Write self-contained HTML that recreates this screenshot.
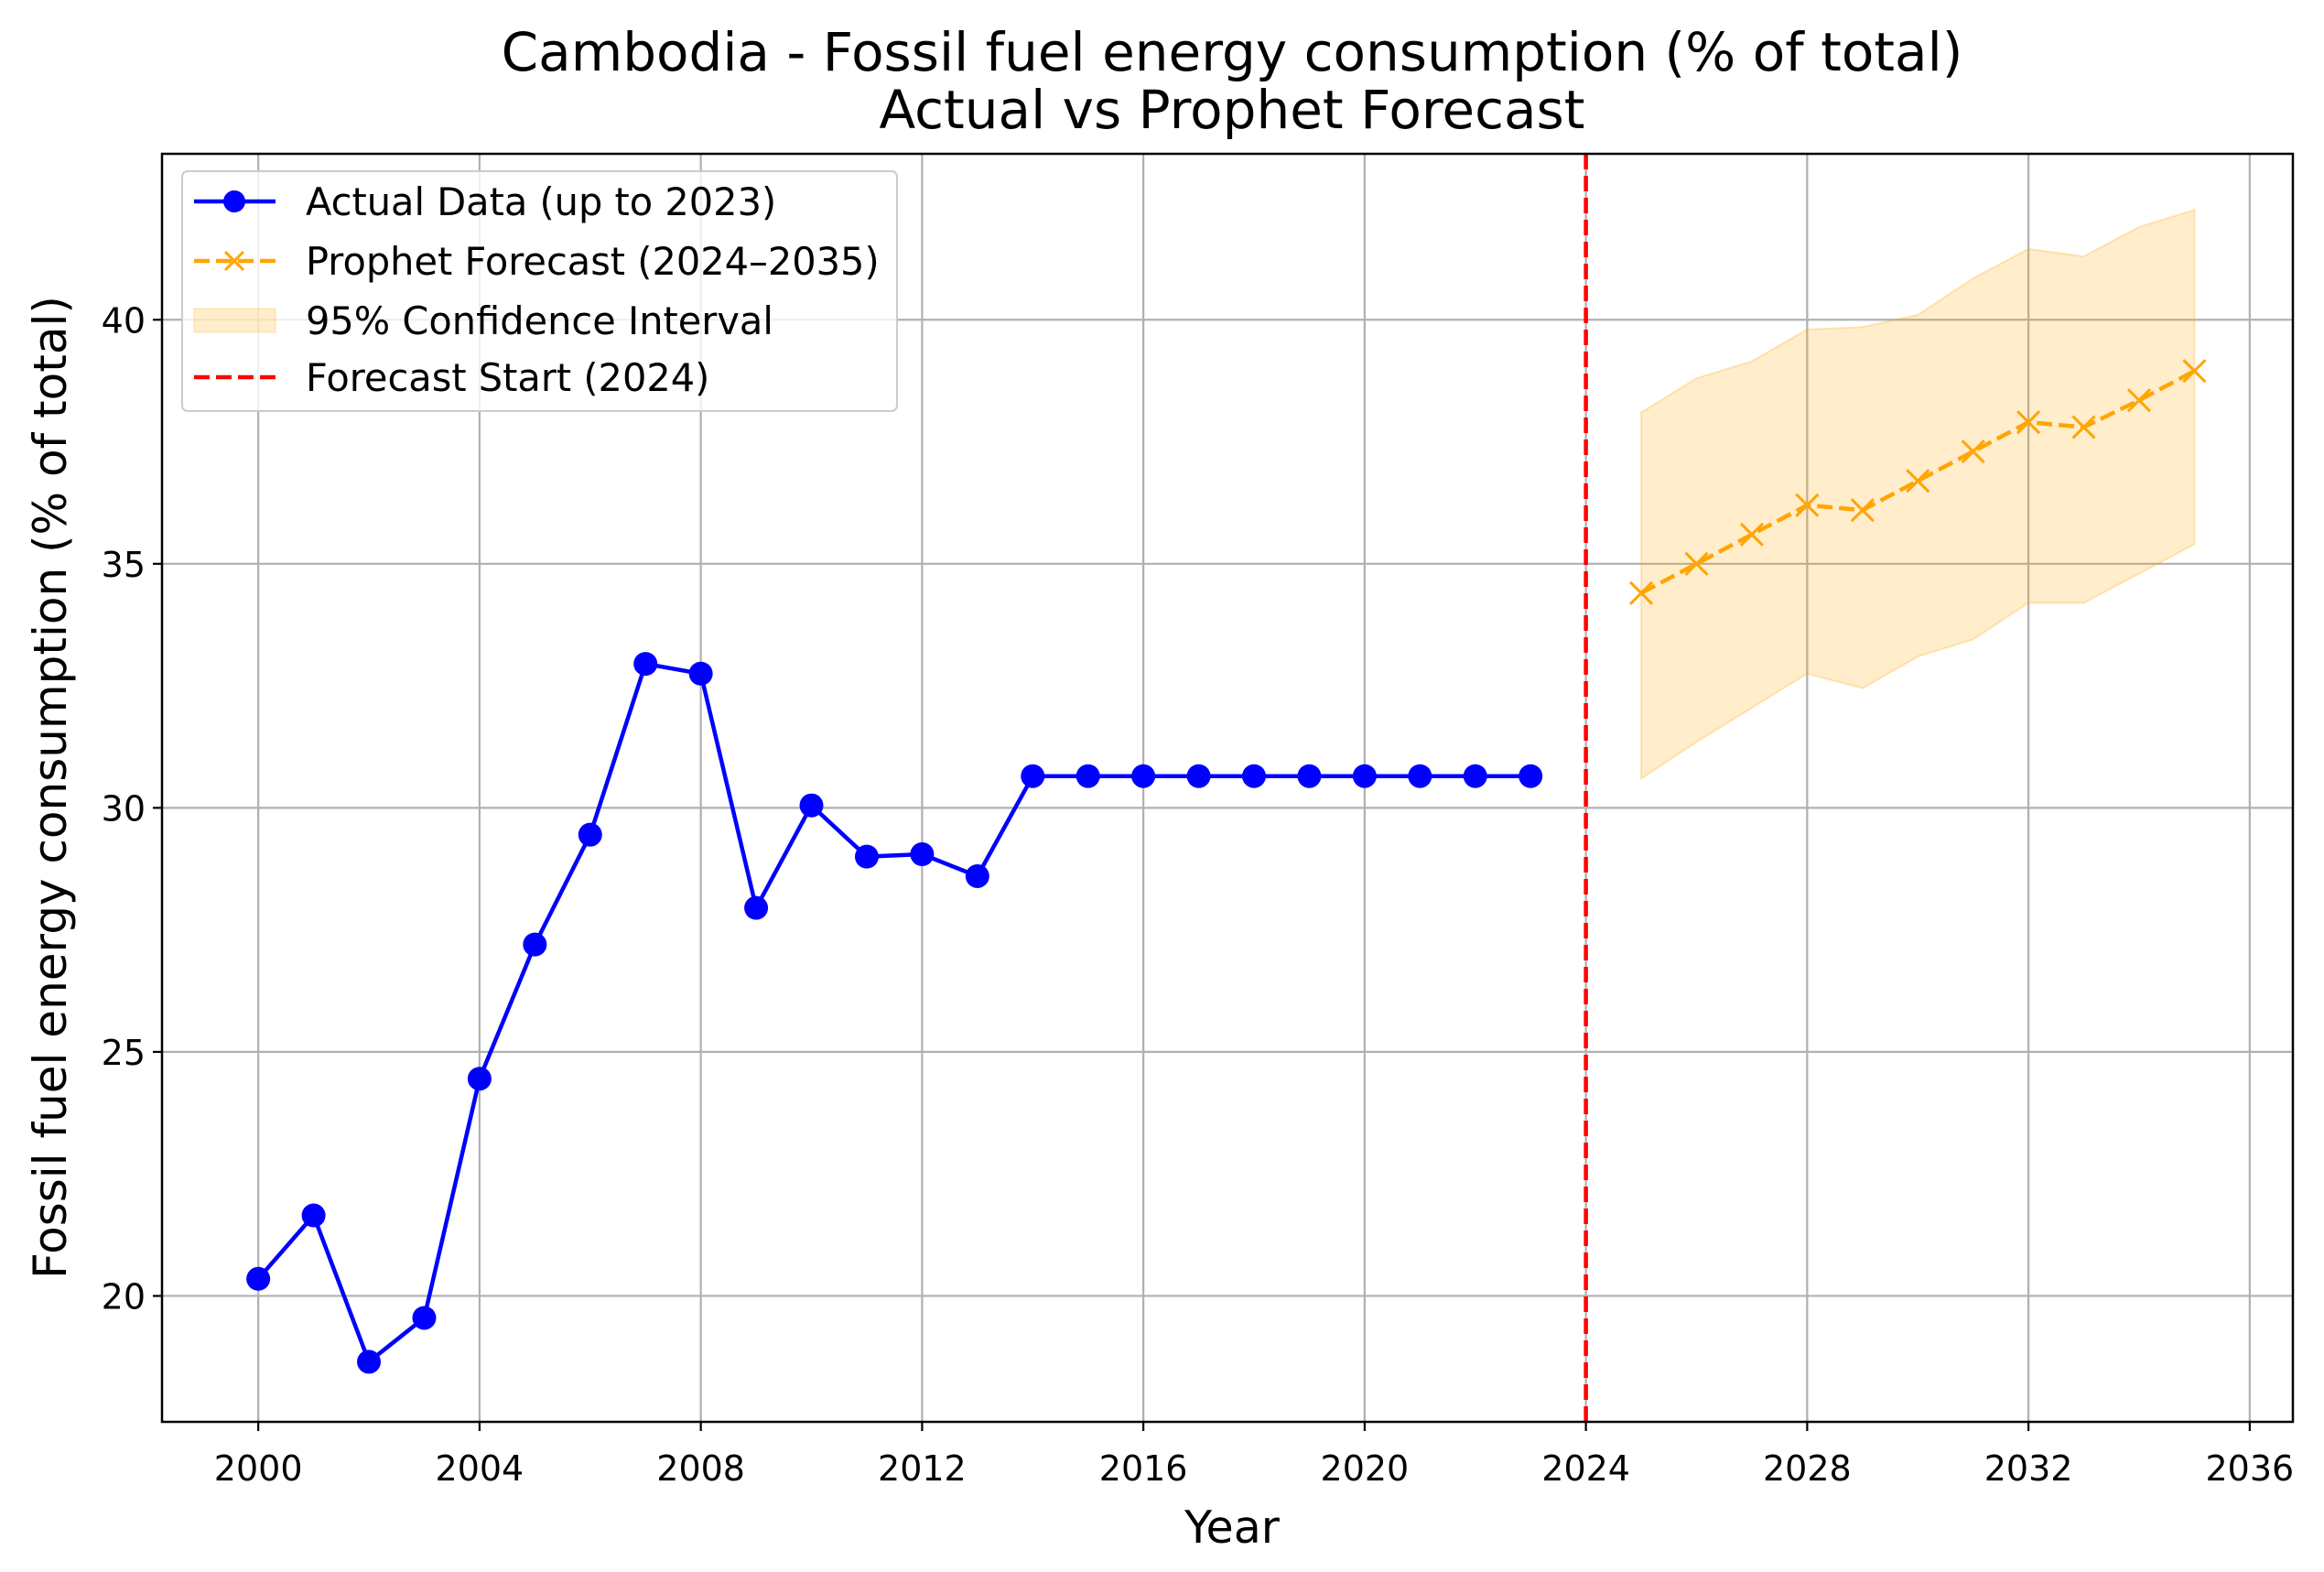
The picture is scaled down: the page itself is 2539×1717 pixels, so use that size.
<!DOCTYPE html>
<html><head><meta charset="utf-8"><style>
body{margin:0;background:#fff;}
svg{display:block;font-family:"DejaVu Sans","Liberation Sans",sans-serif;}
</style></head><body>
<svg id="chart" width="2539" height="1717" viewBox="0 0 2539 1717">
<rect x="0" y="0" width="2539" height="1717" fill="#fff"/>
<text x="1346" y="77" font-size="58" text-anchor="middle">Cambodia - Fossil fuel energy consumption (% of total)</text>
<text x="1346" y="140" font-size="58" text-anchor="middle">Actual vs Prophet Forecast</text>
<g id="grid"></g>
<g id="plot"></g>
<g id="axes"></g>
<text x="1346" y="1685" font-size="49" text-anchor="middle">Year</text>
<text transform="translate(72,860) rotate(-90)" font-size="50" text-anchor="middle">Fossil fuel energy consumption (% of total)</text>
<g>
<rect x="199" y="187" width="781" height="262" rx="6" fill="#fff" fill-opacity="0.8" stroke="#ccc" stroke-width="2"/>
<g>
<line x1="212" y1="220" x2="301" y2="220" stroke="#0000ff" stroke-width="4.5"/><circle cx="256" cy="220" r="12" fill="#0000ff"/>
<text x="334" y="235" font-size="41.5">Actual Data (up to 2023)</text></g>
<g>
<line x1="212" y1="285" x2="301" y2="285" stroke="#ffa500" stroke-width="4.5" stroke-dasharray="17,7"/>
<path d="M246 275 l20 20 M246 295 l20 -20" stroke="#ffa500" stroke-width="3"/>
<text x="334" y="300" font-size="41.5">Prophet Forecast (2024–2035)</text></g>
<g>
<rect x="212" y="337" width="89" height="26" fill="#ffa500" fill-opacity="0.2" stroke="#ffa500" stroke-opacity="0.3"/>
<text x="334" y="365" font-size="41.5">95% Confidence Interval</text></g>
<g>
<line x1="212" y1="412" x2="301" y2="412" stroke="#ff0000" stroke-width="4.5" stroke-dasharray="17,7"/>
<text x="334" y="427" font-size="41.5">Forecast Start (2024)</text></g>
</g>
</svg>
<script>
const actualYears=[2000,2001,2002,2003,2004,2005,2006,2007,2008,2009,2010,2011,2012,2013,2014,2015,2016,2017,2018,2019,2020,2021,2022,2023];
const actualValues=[20.35,21.65,18.65,19.55,24.45,27.2,29.45,32.95,32.75,27.95,30.05,29.0,29.05,28.6,30.65,30.65,30.65,30.65,30.65,30.65,30.65,30.65,30.65,30.65];
const forecastYears=[2025,2026,2027,2028,2029,2030,2031,2032,2033,2034,2035];
const forecastValues=[34.4,35.0,35.6,36.2,36.1,36.7,37.3,37.9,37.8,38.35,38.95];
const upperValues=[38.1,38.8,39.15,39.8,39.85,40.1,40.85,41.45,41.3,41.9,42.25];
const lowerValues=[30.6,31.35,32.05,32.75,32.45,33.1,33.45,34.2,34.2,34.8,35.4];
const xTicks=[2000,2004,2008,2012,2016,2020,2024,2028,2032,2036];
const yTicks=[20,25,30,35,40];
const forecastStart=2024;

const L=177,R=2505,T=168,B=1553;
const xMin=1998.26,xMax=2036.78,yMin=17.42,yMax=43.4;
const sx=v=>L+(v-xMin)/(xMax-xMin)*(R-L);
const sy=v=>B-(v-yMin)/(yMax-yMin)*(B-T);
const NS='http://www.w3.org/2000/svg';
function mk(tag,attrs,parent){const e=document.createElementNS(NS,tag);for(const k in attrs)e.setAttribute(k,attrs[k]);parent.appendChild(e);return e;}
const grid=document.getElementById('grid'),plot=document.getElementById('plot'),axes=document.getElementById('axes');

xTicks.forEach(t=>{
  const g=mk('line',{x1:sx(t),x2:sx(t),y1:T,y2:B,stroke:'#b0b0b0','stroke-width':2.2},grid);
  
  
  mk('line',{x1:sx(t),x2:sx(t),y1:B,y2:B+10,stroke:'#000','stroke-width':2.2},axes);
  const tx=mk('text',{x:sx(t),y:B+64,'font-size':38,'text-anchor':'middle'},axes);
  tx.textContent=t;
  
  
});
yTicks.forEach(t=>{
  const g=mk('line',{x1:L,x2:R,y1:sy(t),y2:sy(t),stroke:'#b0b0b0','stroke-width':2.2},grid);
  
  
  mk('line',{x1:L-10,x2:L,y1:sy(t),y2:sy(t),stroke:'#000','stroke-width':2.2},axes);
  const tx=mk('text',{x:L-18,y:sy(t)+14,'font-size':38,'text-anchor':'end'},axes);
  tx.textContent=t;
  
  
});
const frame=mk('rect',{x:L,y:T,width:R-L,height:B-T,fill:'none',stroke:'#000','stroke-width':2.5},axes);



let d='M'+forecastYears.map((y,i)=>sx(y)+' '+sy(upperValues[i])).join(' L ');
for(let i=forecastYears.length-1;i>=0;i--)d+=' L '+sx(forecastYears[i])+' '+sy(lowerValues[i]);
d+=' Z';
const band=mk('path',{d:d,fill:'#ffa500','fill-opacity':0.2,stroke:'#ffa500','stroke-opacity':0.25,'stroke-width':2},plot);



const al=mk('polyline',{points:actualYears.map((y,i)=>sx(y)+','+sy(actualValues[i])).join(' '),fill:'none',stroke:'#0000ff','stroke-width':4.5},plot);


actualYears.forEach((y,i)=>{
  const c=mk('circle',{cx:sx(y),cy:sy(actualValues[i]),r:13,fill:'#0000ff'},plot);
  
  
});

const fl=mk('polyline',{points:forecastYears.map((y,i)=>sx(y)+','+sy(forecastValues[i])).join(' '),fill:'none',stroke:'#ffa500','stroke-width':4.5,'stroke-dasharray':'17,7'},plot);


forecastYears.forEach((y,i)=>{
  const x=sx(y),yy=sy(forecastValues[i]);
  const m=mk('path',{d:`M${x-12} ${yy-12} L${x+12} ${yy+12} M${x-12} ${yy+12} L${x+12} ${yy-12}`,stroke:'#ffa500','stroke-width':3},plot);
  
  
});

const vl=mk('line',{x1:sx(forecastStart),x2:sx(forecastStart),y1:T,y2:B,stroke:'#ff0000','stroke-width':4.5,'stroke-dasharray':'17,7'},plot);


</script>
</body></html>
